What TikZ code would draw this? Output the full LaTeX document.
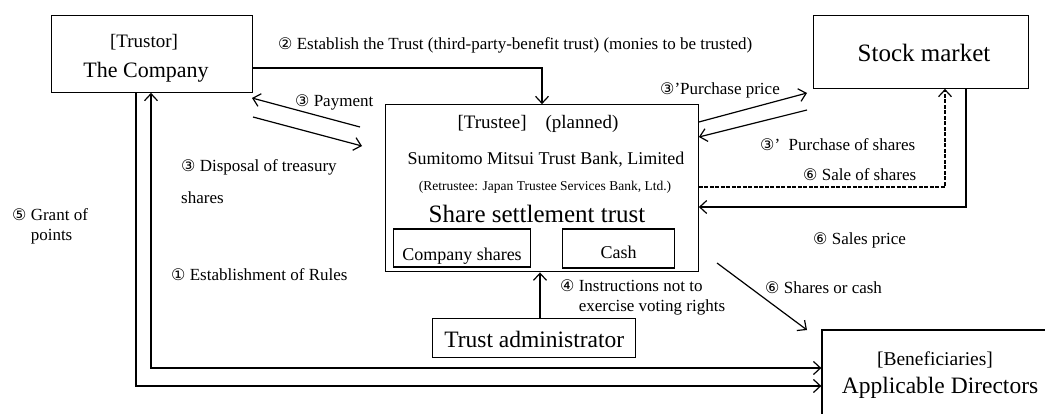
\documentclass[tikz,border=0pt]{standalone}
\usepackage{fontspec}
\setmainfont{Liberation Serif}
\newfontfamily\circfont{DejaVu Sans}
\usetikzlibrary{arrows.meta}
\newcommand{\cnum}[1]{{\circfont\fontsize{16}{16}\selectfont #1}}

\begin{document}
\begin{tikzpicture}[x=1pt, y=-1pt,
    box/.style={draw, line width=1.3pt, inner sep=0pt},
    txt/.style={inner sep=0pt},
    lbl/.style={inner sep=0pt, anchor=west, align=left, font=\fontsize{17}{20}\selectfont},
    link/.style={line width=1.2pt, -{Straight Barb[length=7pt,width=13pt,line width=1.2pt]}},
  ]
    \useasboundingbox (0,0) rectangle (1045,413);

    % ===== 方框 =====
    \node[box, minimum width=201pt, minimum height=77pt] (trustor) at (151.7,53.7) {};
    \node[txt, font=\fontsize{19}{19}\selectfont] (trustorA) at (144,42) {[Trustor]};
    \node[txt, font=\fontsize{22}{22}\selectfont] (trustorB) at (146,72.5) {The Company};

    \node[box, minimum width=215pt, minimum height=73pt] (market) at (920.8,51.7) {};
    \node[txt, font=\fontsize{25}{25}\selectfont] (marketA) at (924,53) {Stock market};

    \node[box, minimum width=313pt, minimum height=167pt] (trustee) at (541.7,188.3) {};
    \node[txt, font=\fontsize{19}{19}\selectfont] (trusteeA) at (538,123.5) {[Trustee]\hspace{1em}(planned)};
    \node[txt, font=\fontsize{18}{18}\selectfont] (trusteeB) at (546,159.5) {Sumitomo Mitsui Trust Bank, Limited};
    \node[txt, font=\fontsize{13.5}{13.5}\selectfont] (trusteeC) at (545,187) {(Retrustee: Japan Trustee Services Bank, Ltd.)};
    \node[txt, font=\fontsize{25}{25}\selectfont] (trusteeD) at (537,214) {Share settlement trust};

    \node[box, minimum width=137pt, minimum height=38pt] (shares) at (462,248) {};
    \node[txt, font=\fontsize{18}{18}\selectfont] (sharesA) at (462,256) {Company shares};
    \node[box, minimum width=112pt, minimum height=39pt] (cash) at (618.5,248.5) {};
    \node[txt, font=\fontsize{18}{18}\selectfont] (cashA) at (618.5,252) {Cash};

    \node[box, minimum width=203pt, minimum height=39pt] (admin) at (534.3,337.8) {};
    \node[txt, font=\fontsize{23.5}{23.5}\selectfont] (adminA) at (534.3,339) {Trust administrator};

    \node[box, minimum width=240pt, minimum height=100pt] (benef) at (942,380) {};
    \node[txt, font=\fontsize{19.5}{19.5}\selectfont] (benefA) at (935,359.5) {[Beneficiaries]};
    \node[txt, font=\fontsize{23.5}{23.5}\selectfont] (benefB) at (940,388) {Applicable Directors};

    % ===== 连线 =====
    % ② 设定信托
    \coordinate (est) at (542,68);
    \draw[link] (trustor.east |- est) -- (est) -- (trustee.north -| est);

    % ③ 支付 / 处分库存股
    \coordinate (payA) at (360,127);
    \coordinate (payB) at (252,98);
    \draw[link] (payA) -- (payB);
    \coordinate (disA) at (253,117);
    \coordinate (disB) at (362,146);
    \draw[link] (disA) -- (disB);

    % ③' 市场买入
    \coordinate (buyA) at (807,93);
    \draw[link] (trustee.east |- 0,122) -- (buyA);
    \coordinate (buyB) at (807,110);
    \draw[link] (buyB) -- (trustee.east |- 0,137);

    % ⑥ 出售 (虚线) / 出售价款
    \coordinate (sell) at (945,187);
    \draw[link, dash pattern=on 4pt off 1.5pt] (trustee.east |- sell) -- (sell) -- (market.south -| sell);
    \coordinate (back) at (966,207);
    \draw[link] (market.south -| back) -- (back) -- (trustee.east |- back);

    % ⑥ 交付
    \coordinate (payoutA) at (717,263);
    \coordinate (payoutB) at (807,330);
    \draw[link] (payoutA) -- (payoutB);

    % ④ 指示
    \coordinate (instr) at (540,300);
    \draw[link, line width=2pt] (admin.north -| instr) -- (trustee.south -| instr);

    % ⑤ 积分 / ① 规程
    \coordinate (grant) at (136,386);
    \draw[link] (trustor.south -| grant) -- (grant) -- (benef.west |- grant);
    \coordinate (rules) at (151,368);
    \draw[link, {Straight Barb[length=7pt,width=13pt,line width=1.2pt]}-{Straight Barb[length=7pt,width=13pt,line width=1.2pt]}]
        (trustor.south -| rules) -- (rules) -- (benef.west |- rules);

    % ===== 标注 =====
    \node[lbl] (lblEst) at (278,45) {\cnum{②} Establish the Trust (third-party-benefit trust) (monies to be trusted)};
    \node[lbl] (lblPay) at (295,102) {\cnum{③} Payment};
    \node[lbl, font=\fontsize{17}{32}\selectfont] (lblDis) at (181,182) {\cnum{③} Disposal of treasury\\shares};
    \node[lbl] (lblGrant) at (12,226.5) {\begin{tabular}{@{}l@{\ }l@{}}\cnum{⑤} & Grant of\\ & points\end{tabular}};
    \node[lbl] (lblRules) at (171,274.5) {\cnum{①} Establishment of Rules};
    \node[lbl] (lblBuyA) at (660,90) {\cnum{③}’Purchase price};
    \node[lbl] (lblBuyB) at (760,145) {\cnum{③}’\ \ Purchase of shares};
    \node[lbl] (lblSell) at (803,175) {\cnum{⑥} Sale of shares};
    \node[lbl] (lblBack) at (813,240) {\cnum{⑥} Sales price};
    \node[lbl] (lblPayout) at (765,288) {\cnum{⑥} Shares or cash};
    \node[lbl] (lblInstr) at (560,297.5) {\begin{tabular}{@{}l@{\ }l@{}}\cnum{④} & Instructions not to\\ & exercise voting rights\end{tabular}};
\end{tikzpicture}
\end{document}
